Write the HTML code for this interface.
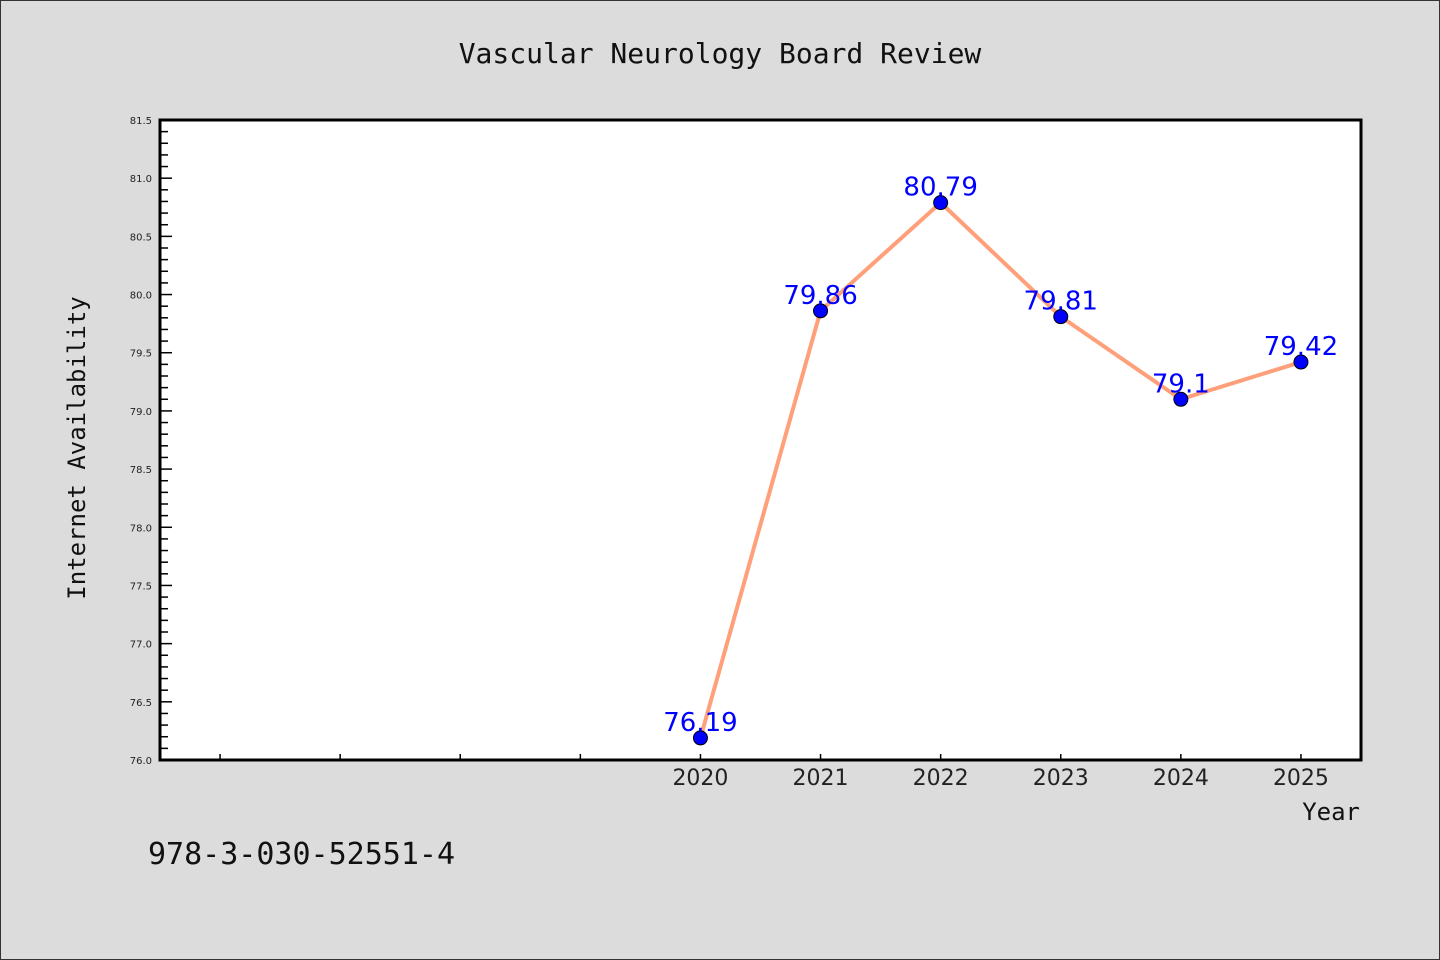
<!DOCTYPE html>
<html><head><meta charset="utf-8"><style>
html,body{margin:0;padding:0;background:#dcdcdc;}
svg{display:block;}
</style></head><body>
<svg id="chart" width="1440" height="960" xmlns="http://www.w3.org/2000/svg">
<rect x="0.5" y="0.5" width="1439" height="959" fill="#dcdcdc" stroke="#333" stroke-width="1"/>
<text x="720" y="63" text-anchor="middle" font-family="DejaVu Sans Mono, Liberation Mono, monospace" font-size="28" fill="#111">Vascular Neurology Board Review</text>
<rect x="160" y="120" width="1201" height="640" fill="#fff"/>
<g id="yaxis"></g>
<g id="xaxis"></g>
<g id="series"></g>
<rect x="160" y="120" width="1201" height="640" fill="none" stroke="#000" stroke-width="3"/>
<text transform="translate(85,448) rotate(-90)" text-anchor="middle" font-family="DejaVu Sans Mono, Liberation Mono, monospace" font-size="24" fill="#111">Internet Availability</text>
<text x="1360" y="820" text-anchor="end" font-family="DejaVu Sans Mono, Liberation Mono, monospace" font-size="24" fill="#111">Year</text>
<text x="148" y="864" font-family="DejaVu Sans Mono, Liberation Mono, monospace" font-size="30" fill="#111">978-3-030-52551-4</text>
</svg>
<script>
const years = [2020, 2021, 2022, 2023, 2024, 2025];
const values = [76.19, 79.86, 80.79, 79.81, 79.1, 79.42];
const valueLabels = ["76.19", "79.86", "80.79", "79.81", "79.1", "79.42"];
const yTickLabels = ["76.0","76.5","77.0","77.5","78.0","78.5","79.0","79.5","80.0","80.5","81.0","81.5"];
const xTicks = [2016, 2017, 2018, 2019, 2020, 2021, 2022, 2023, 2024, 2025];

const NS = "http://www.w3.org/2000/svg";
const L = 160, R = 1361, T = 120, B = 760;
const xMin = 2015.5, xMax = 2025.5, yMin = 76.0, yMax = 81.5;
const xs = v => L + (v - xMin) / (xMax - xMin) * (R - L);
const ys = v => B - (v - yMin) / (yMax - yMin) * (B - T);
function mk(tag, attrs, parent) {
  const e = document.createElementNS(NS, tag);
  for (const k in attrs) e.setAttribute(k, attrs[k]);
  parent.appendChild(e);
  return e;
}
const yg = document.getElementById('yaxis');
for (let i = 0; i <= 55; i++) {
  const v = yMin + i * 0.1;
  const major = i % 5 === 0;
  const t = mk('line', {x1: L, x2: L + (major ? 12 : 8), y1: ys(v), y2: ys(v), stroke: '#000', 'stroke-width': 1.5}, yg);
  
  
}
yTickLabels.forEach(s => {
  const t = mk('text', {x: L - 8, y: ys(parseFloat(s)) + 4, 'text-anchor': 'end', 'font-family': 'DejaVu Sans, Liberation Sans, sans-serif', 'font-size': 10, fill: '#222'}, yg);
  t.textContent = s;
  
  
});
const xg = document.getElementById('xaxis');
xTicks.forEach(yr => {
  const t = mk('line', {x1: xs(yr), x2: xs(yr), y1: B, y2: B - 6, stroke: '#000', 'stroke-width': 1.5}, xg);
  
  
});
years.forEach(yr => {
  const t = mk('text', {x: xs(yr), y: B + 25, 'text-anchor': 'middle', 'font-family': 'DejaVu Sans, Liberation Sans, sans-serif', 'font-size': 22, fill: '#222'}, xg);
  t.textContent = String(yr);
  
  
});
const sg = document.getElementById('series');
const pts = years.map((y, i) => xs(y) + ',' + ys(values[i])).join(' ');
const pl = mk('polyline', {points: pts, fill: 'none', stroke: '#ffa07a', 'stroke-width': 4, 'stroke-linejoin': 'round'}, sg);


years.forEach((y, i) => {
  const c = mk('circle', {cx: xs(y), cy: ys(values[i]), r: 7, fill: '#0000ff', stroke: '#000', 'stroke-width': 1}, sg);
  
  
  const t = mk('text', {x: xs(y), y: ys(values[i]) - 7, 'text-anchor': 'middle', 'font-family': 'DejaVu Sans, Liberation Sans, sans-serif', 'font-size': 26, fill: '#0000ff'}, sg);
  t.textContent = valueLabels[i];
  
  
});
</script>
</body></html>
